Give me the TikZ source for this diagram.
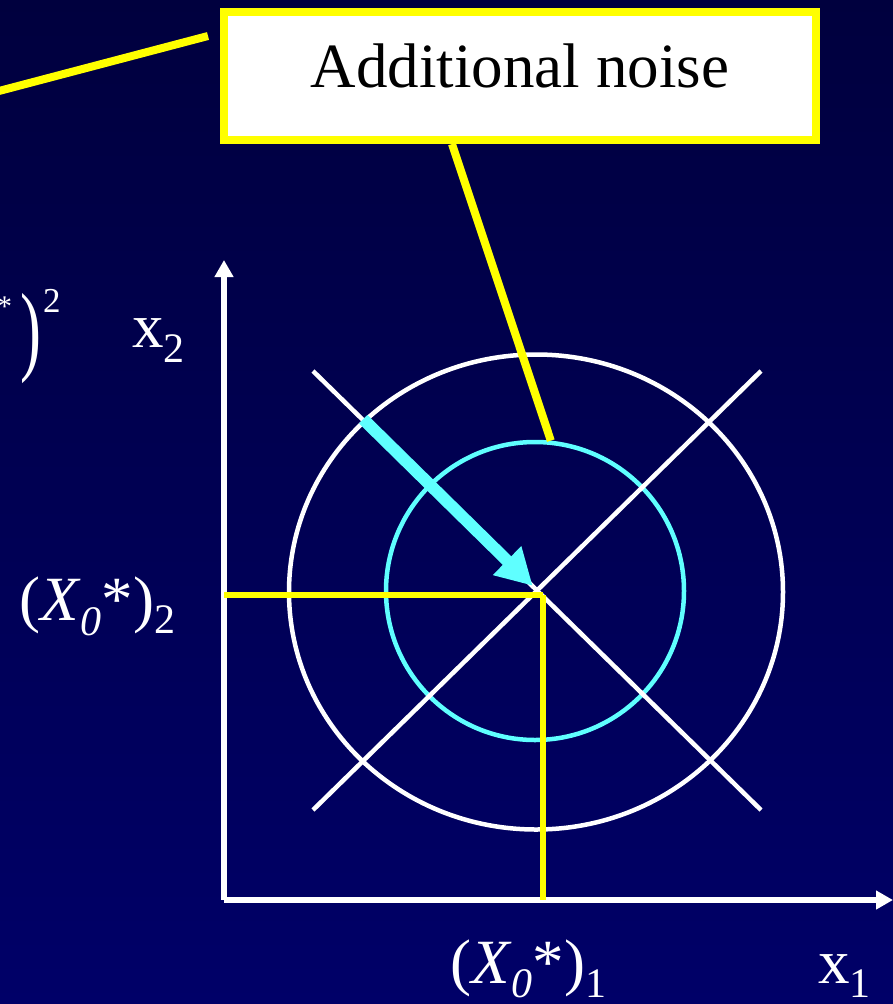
\documentclass[tikz,border=0pt]{standalone}
\usepackage{fontspec}
\setmainfont{Liberation Serif}
\usepackage{graphicx}
\usetikzlibrary{arrows.meta,shapes.geometric}
\definecolor{slidetop}{RGB}{0,0,62}
\definecolor{slidebot}{RGB}{0,0,104}
\definecolor{noisecyan}{RGB}{95,255,255}
\definecolor{calloutyellow}{RGB}{255,255,0}
\newcommand{\bigsize}{\fontsize{63}{70}\selectfont}
\newcommand{\subsize}{\fontsize{42}{46}\selectfont}
\newcommand{\lowered}[2]{\raisebox{-#1}{\subsize #2}}

\begin{document}
\begin{tikzpicture}[x=1pt,y=-1pt,
  axis/.style={draw=white, line width=5.5pt, -{Triangle[length=17pt,width=18pt]}},
  contour/.style={draw=white, line width=4.5pt, inner sep=0pt},
  pull/.style={draw=noisecyan, line width=12pt, -{Triangle[length=36pt,width=38pt]}, shorten >=6pt},
  callout/.style={draw=calloutyellow, line width=8pt},
  projline/.style={draw=calloutyellow, line width=5.5pt},
  notebox/.style={draw=calloutyellow, line width=8pt, fill=white, inner sep=0pt,
    minimum width=592pt, minimum height=128pt, text height=43pt, text depth=21pt, font=\bigsize},
  axislabel/.style={text=white, inner sep=0pt, anchor=base west, font=\bigsize}]
\useasboundingbox (0,0) rectangle (893,1004);
\clip (0,0) rectangle (893,1004);
\shade[top color=slidetop, bottom color=slidebot] (0,0) rectangle (893,1004);

\coordinate (origin) at (224,900);
\coordinate (ytop) at (224,260);
\coordinate (xend) at (893,900);
\coordinate (opt) at (537,590);
\coordinate (proj) at (543,595);
\coordinate (crossnw) at (313,371);
\coordinate (crossse) at (761,810);
\coordinate (crossne) at (761,371);
\coordinate (crosssw) at (313,810);
\coordinate (farleft) at (-20,96);

\draw[axis] (origin) -- (ytop);
\draw[axis] (origin) -- (xend);

\node[contour, ellipse, minimum width=494pt, minimum height=475pt] (outer) at (536,592) {};
\node[contour, circle, draw=noisecyan, minimum size=298pt] (inner) at (535,591) {};
\draw[contour] (crossnw) -- (crossse);
\draw[contour] (crossne) -- (crosssw);

\draw[projline] (proj) -- (proj -| origin);
\draw[projline] (proj) -- (proj |- origin);
\draw[pull] (outer.135) -- (opt);

\node[axislabel] (xtwo) at (132,347) {x\lowered{15pt}{2}};
\node[axislabel] (xone) at (818,983) {x\lowered{14pt}{1}};
\node[axislabel] (opttwo) at (19,620) {(\textit{X}\lowered{15pt}{\textit{0}}*)\lowered{13pt}{2}};
\node[axislabel] (optone) at (450,983) {(\textit{X}\lowered{14pt}{\textit{0}}*)\lowered{14pt}{1}};
\node[axislabel] (sqterm) at (-3,362) {{\fontsize{30}{34}\selectfont\raisebox{46pt}{*}}\hspace{8pt}\scalebox{1}[1.58]{)}\hspace{2pt}{\fontsize{35}{38}\selectfont\raisebox{50pt}{2}}};

\node[notebox] (box) at (520,76) {Additional noise};
\draw[callout] ([shift={(-12,28)}]box.north west) -- (farleft);
\draw[callout] ([xshift=232pt]box.south west) -- (inner.84);
\end{tikzpicture}
\end{document}
